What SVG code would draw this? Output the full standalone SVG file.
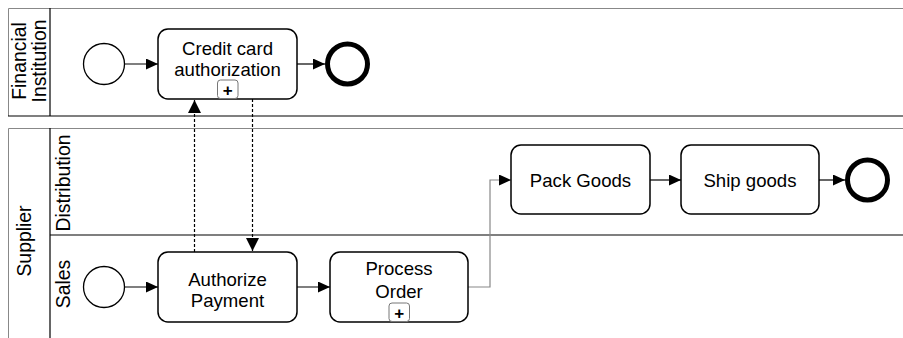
<svg xmlns="http://www.w3.org/2000/svg" width="903" height="338" viewBox="0 0 903 338">
<defs>
<style>
text{font-family:"Liberation Sans",Arial,sans-serif;font-size:18.6px;fill:#000}
.c{text-anchor:middle}
.lbl{font-size:19.4px}
.pl{font-size:17px;font-weight:bold}
.task{fill:#fff;stroke:#000;stroke-width:1.5}
.start{fill:#fff;stroke:#000;stroke-width:1.3}
.end{fill:#fff;stroke:#000;stroke-width:5}
.plus{fill:#fff;stroke:#777;stroke-width:1}
.flow{fill:none;stroke:#000;stroke-width:1.2}
.msg{fill:none;stroke:#000;stroke-width:1.2;stroke-dasharray:3 2}
.pool{fill:none;stroke:#888;stroke-width:1}
.div{fill:none;stroke:#000;stroke-width:1.2}
</style>
<marker id="ah" viewBox="0 0 12 11" refX="12" refY="5.5" markerWidth="12" markerHeight="11" markerUnits="userSpaceOnUse" orient="auto">
<path d="M0,0 L12,5.5 L0,11 Z" fill="#000"/>
</marker>
<marker id="am" viewBox="0 0 13 13" refX="13" refY="6.5" markerWidth="13" markerHeight="13" markerUnits="userSpaceOnUse" orient="auto">
<path d="M0,0 L13,6.5 L0,13 Z" fill="#000"/>
</marker>
</defs>

<g id="pool-financial">
<path class="pool" d="M903,8.5 H8.5 V116"/>
<path class="div" d="M50,8 V116 M8,116 H903"/>
<text transform="translate(26,61) rotate(-90)" class="c lbl">Financial</text>
<text transform="translate(46,61) rotate(-90)" class="c lbl">Institution</text>
</g>

<g id="pool-supplier">
<path class="pool" d="M903,128.5 H8.5 V338"/>
<path class="div" d="M50,128 V338 M50,235 H903"/>
<text transform="translate(31,241) rotate(-90)" class="c lbl">Supplier</text>
<text transform="translate(70,183) rotate(-90)" class="c lbl">Distribution</text>
<text transform="translate(70,284) rotate(-90)" class="c lbl">Sales</text>
</g>

<g id="connectors">
<path class="flow" d="M124,64 H158" marker-end="url(#ah)"/>
<path class="flow" d="M297,64 H325" marker-end="url(#ah)"/>
<path class="flow" d="M124,287 H158" marker-end="url(#ah)"/>
<path class="flow" d="M297,287 H330" marker-end="url(#ah)"/>
<path class="flow" d="M468,287 H490 V180 H511" style="stroke:#888" marker-end="url(#ah)"/>
<path class="flow" d="M650,180 H681" marker-end="url(#ah)"/>
<path class="flow" d="M819,180 H845" marker-end="url(#ah)"/>
<path class="msg" d="M194.5,252 V100" marker-end="url(#am)"/>
<path class="msg" d="M252.5,99 V251" marker-end="url(#am)"/>
</g>

<g id="start-fin"><circle class="start" cx="104" cy="64" r="20.5"/></g>
<g id="task-credit">
<rect class="task" x="158" y="29" width="139" height="70" rx="10"/>
<text class="c" x="227.5" y="55">Credit card</text>
<text class="c" x="227.5" y="75.5">authorization</text>
<rect class="plus" x="217.5" y="80" width="20.5" height="18.5" rx="3"/>
<text class="c pl" x="227.8" y="95.5">+</text>
</g>
<g id="end-fin"><circle class="end" cx="347.5" cy="64" r="20"/></g>

<g id="start-sales"><circle class="start" cx="104" cy="287" r="20.5"/></g>
<g id="task-authorize">
<rect class="task" x="158" y="252" width="139" height="70" rx="10"/>
<text class="c" x="227.5" y="286">Authorize</text>
<text class="c" x="227.5" y="306.5">Payment</text>
</g>
<g id="task-process">
<rect class="task" x="330" y="252" width="138" height="70" rx="10"/>
<text class="c" x="399" y="275">Process</text>
<text class="c" x="399" y="297.5">Order</text>
<rect class="plus" x="389" y="303" width="20.5" height="18.5" rx="3"/>
<text class="c pl" x="399.3" y="318.5">+</text>
</g>
<g id="task-pack">
<rect class="task" x="511" y="145" width="139" height="69" rx="10"/>
<text class="c" x="580.5" y="187">Pack Goods</text>
</g>
<g id="task-ship">
<rect class="task" x="681" y="145" width="138" height="69" rx="10"/>
<text class="c" x="750" y="187">Ship goods</text>
</g>
<g id="end-dist"><circle class="end" cx="867.5" cy="180" r="20"/></g>
</svg>
